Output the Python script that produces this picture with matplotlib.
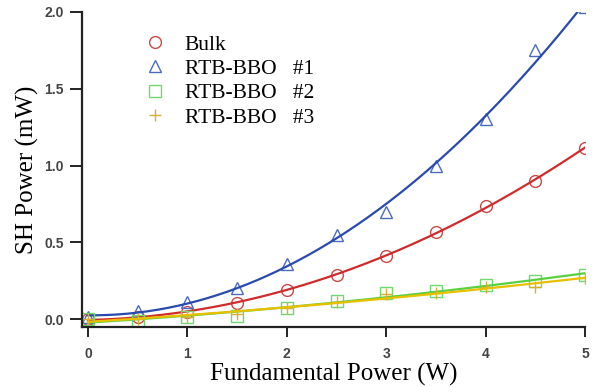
import matplotlib.pyplot as plt
import numpy as np

# fundamental power (W)
power = [0, 0.5, 1, 1.5, 2, 2.5, 3, 3.5, 4, 4.5, 5]

# SH power (mW)
bulk = [0.0, 0.01, 0.045, 0.105, 0.19, 0.29, 0.41, 0.57, 0.735, 0.90, 1.115]
rtb1 = [0.01, 0.05, 0.11, 0.20, 0.36, 0.55, 0.70, 1.00, 1.30, 1.75, 2.03]
rtb2 = [0.0, -0.01, 0.01, 0.02, 0.07, 0.12, 0.17, 0.18, 0.22, 0.25, 0.29]
rtb3 = [0.0, 0.0, 0.01, 0.03, 0.07, 0.11, 0.16, 0.17, 0.21, 0.21, 0.27]

labels = ['Bulk', 'RTB-BBO   #1', 'RTB-BBO   #2', 'RTB-BBO   #3']

fig = plt.figure(figsize=(5.96, 3.87), dpi=100)
ax = fig.add_axes([0.1376, 0.155, 0.844, 0.814])

xfit = np.linspace(0, 5, 200)
series = [
    (bulk, 'o', '#c84848', '#d02a2a'),
    (rtb1, '^', '#4a6cc0', '#2a4aae'),
    (rtb2, 's', '#70d870', '#58d040'),
    (rtb3, '+', '#d8b030', '#e8c000'),
]

for (ys, m, mc, lc), lab in zip(series, labels):
    ax.plot(power, ys, linestyle='none', marker=m, markersize=8.5,
            markerfacecolor='none', markeredgecolor=mc, markeredgewidth=1.0,
            label=lab)
    coef = np.polyfit(power, ys, 2)
    ax.plot(xfit, np.polyval(coef, xfit), color=lc, linewidth=1.6)

ax.set_xlim(-0.06, 5.0)
ax.set_ylim(-0.052, 2.0)
ax.set_xticks([0, 1, 2, 3, 4, 5])
ax.set_yticks([0.0, 0.5, 1.0, 1.5, 2.0])
ax.set_yticklabels(['0.0', '0.5', '1.0', '1.5', '2.0'])

for s in ['top', 'right']:
    ax.spines[s].set_visible(False)
for s in ['left', 'bottom']:
    ax.spines[s].set_linewidth(1.6)
    ax.spines[s].set_color('#222222')

ax.tick_params(direction='out', width=1.4, color='#222222',
               labelsize=10, labelcolor='#444444')
ax.tick_params(axis='x', length=7.5, pad=7)
ax.tick_params(axis='y', length=9, pad=4)
for t in ax.get_xticklabels() + ax.get_yticklabels():
    t.set_fontweight('bold')
    t.set_family('Liberation Sans')

ax.set_xlabel('Fundamental Power (W)', family='Liberation Serif', fontsize=18,
              labelpad=1)
ax.set_ylabel('SH Power (mW)', family='Liberation Serif', fontsize=18,
              labelpad=4)

leg = ax.legend(loc='upper left', bbox_to_anchor=(0.08, 0.99), frameon=False,
                prop={'family': 'Liberation Serif', 'size': 15.5},
                handletextpad=0.8, labelspacing=0.2, handlelength=1.2)

fig.savefig('out.png', dpi=100)
